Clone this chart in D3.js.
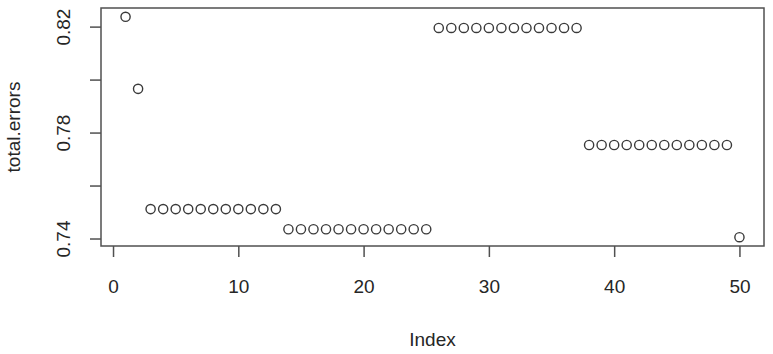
<!DOCTYPE html>
<html lang="en">
<head>
    <meta charset="utf-8">
    <style type="text/css">
        body { margin: 0; background: #fff; }
        text { font-family: "Liberation Sans", Arial, sans-serif; fill: #262626; }
        .pt { fill: none; stroke: #3a3a3a; stroke-width: 1.4px; }
        .box { fill: none; stroke: #505050; stroke-width: 1.5px; }
        .axis path { display: none; }
        .axis line { stroke: #505050; stroke-width: 1.5px; }
    </style>
</head>
<body>
<svg width="773" height="354"></svg>

<script src="https://d3js.org/d3.v7.min.js" type="text/javascript"></script>
<script type="text/javascript">
    // total.errors by index
    var index = d3.range(1, 51);
    var totalErrors = [
        0.8237, 0.7965,
        0.7511, 0.7511, 0.7511, 0.7511, 0.7511, 0.7511, 0.7511, 0.7511, 0.7511, 0.7511, 0.7511,
        0.7435, 0.7435, 0.7435, 0.7435, 0.7435, 0.7435, 0.7435, 0.7435, 0.7435, 0.7435, 0.7435, 0.7435,
        0.8195, 0.8195, 0.8195, 0.8195, 0.8195, 0.8195, 0.8195, 0.8195, 0.8195, 0.8195, 0.8195, 0.8195,
        0.7753, 0.7753, 0.7753, 0.7753, 0.7753, 0.7753, 0.7753, 0.7753, 0.7753, 0.7753, 0.7753, 0.7753,
        0.7405
    ];
    var xTicks = [0, 10, 20, 30, 40, 50];
    var yTicks = [0.74, 0.76, 0.78, 0.80, 0.82];
    var yLabelled = [0.74, 0.78, 0.82];

    var svg = d3.select("svg"),
        plotLeft = 101, plotRight = 764, plotTop = 8, plotBottom = 246;

    // R style: extend data range by 4% each side
    function pad(ext) {
        var d = (ext[1] - ext[0]) * 0.04;
        return [ext[0] - d, ext[1] + d];
    }

    var x = d3.scaleLinear().domain(pad(d3.extent(index))).range([plotLeft, plotRight]);
    var y = d3.scaleLinear().domain(pad(d3.extent(totalErrors))).range([plotBottom, plotTop]);

    svg.append("rect")
        .attr("class", "box")
        .attr("x", plotLeft).attr("y", plotTop)
        .attr("width", plotRight - plotLeft).attr("height", plotBottom - plotTop);

    var xAxis = svg.append("g")
        .attr("class", "axis")
        .attr("transform", "translate(0," + plotBottom + ")")
        .call(d3.axisBottom(x).tickValues(xTicks).tickSize(11).tickPadding(0));
    xAxis.selectAll("text")
        .attr("y", 47).attr("dy", 0)
        .style("font-size", "19px");

    var yAxis = svg.append("g")
        .attr("class", "axis")
        .attr("transform", "translate(" + plotLeft + ",0)")
        .call(d3.axisLeft(y).tickValues(yTicks).tickSize(11)
            .tickFormat(function (d) {
                return yLabelled.some(function (v) { return Math.abs(v - d) < 1e-9; }) ? d.toFixed(2) : "";
            }));
    yAxis.selectAll("text")
        .attr("transform", "rotate(-90)")
        .attr("x", 0).attr("y", -31).attr("dy", 0)
        .attr("text-anchor", "middle")
        .style("font-size", "19px");

    svg.selectAll(".pt")
        .data(totalErrors)
        .enter()
        .append("circle")
        .attr("class", "pt")
        .attr("cx", function (d, i) { return x(index[i]); })
        .attr("cy", function (d) { return y(d); })
        .attr("r", 4.6);

    svg.append("text")
        .attr("x", (plotLeft + plotRight) / 2)
        .attr("y", 346)
        .attr("text-anchor", "middle")
        .style("font-size", "19px")
        .text("Index");

    svg.append("text")
        .attr("transform", "translate(20," + ((plotTop + plotBottom) / 2) + ") rotate(-90)")
        .attr("text-anchor", "middle")
        .style("font-size", "19px")
        .text("total.errors");
</script>

</body>
</html>
